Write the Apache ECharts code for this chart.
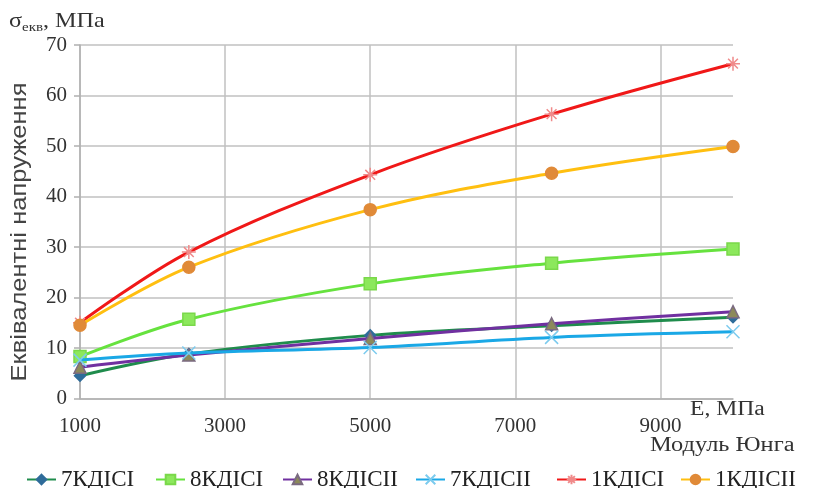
<!DOCTYPE html>
<html>
<head>
<meta charset="utf-8">
<script src="https://cdn.jsdelivr.net/npm/echarts@6/dist/echarts.min.js"></script>
<style>html,body{margin:0;padding:0;background:#fff;}#c{width:818px;height:488px;}</style>
</head>
<body>
<div id="c"></div>
<script>
// ---- data ----
const xValues = [1000, 2500, 5000, 7500, 10000];
const seriesNames = ['7КДІСІ', '8КДІСІ', '8КДІСІІ', '7КДІСІІ', '1КДІСІ', '1КДІСІІ'];
const v7KDISI  = [4.5, 8.8, 12.5, 14.4, 16.1];
const v8KDISI  = [8.3, 15.7, 22.7, 26.8, 29.6];
const v8KDISII = [6.2, 8.6, 11.9, 14.8, 17.2];
const v7KDISII = [7.6, 9.0, 10.1, 12.1, 13.2];
const v1KDISI  = [15.0, 29.0, 44.3, 56.3, 66.3];
const v1KDISII = [14.5, 26.0, 37.4, 44.6, 49.9];
const yTicks = [0, 10, 20, 30, 40, 50, 60, 70];
const xTickLabels = [1000, 3000, 5000, 7000, 9000];
const yTitle = 'Еквівалентні напруження';
const xUnit = 'E, МПа';
const xTitle = 'Модуль Юнга';

const serif = '"Liberation Serif", "DejaVu Serif", serif';
const sans = '"Liberation Sans", Arial, sans-serif';

const styles = [
  {line: '#1f8c4c', fill: '#2f6c9a', border: '#2f6c9a', symbol: 'diamond', size: 11},
  {line: '#66e23e', fill: '#8ce85c', border: '#7ad84a', symbol: 'rect', size: 12},
  {line: '#7030a0', fill: '#8c8a5a', border: '#7a6a80', symbol: 'triangle', size: 12},
  {line: '#1aa8e6', fill: 'rgba(0,0,0,0)', border: '#7ccbee', symbol: 'path://M0,0L10,10M10,0L0,10', size: 13},
  {line: '#f01818', fill: 'rgba(0,0,0,0)', border: '#f08a8a', symbol: 'path://M0,5L10,5M5,0L5,10M1.5,1.5L8.5,8.5M8.5,1.5L1.5,8.5', size: 14},
  {line: '#ffbf10', fill: '#e08a38', border: '#e08a38', symbol: 'circle', size: 12}
];
const allValues = [v7KDISI, v8KDISI, v8KDISII, v7KDISII, v1KDISI, v1KDISII];

const series = seriesNames.map((name, i) => ({
  name: name,
  type: 'line',
  smooth: 0.35,
  data: xValues.map((x, j) => [x, allValues[i][j]]),
  symbol: styles[i].symbol,
  symbolSize: styles[i].size,
  lineStyle: {color: styles[i].line, width: 3},
  itemStyle: {color: styles[i].fill, borderColor: styles[i].border, borderWidth: 1.5},
  z: 2 + i
}));

const legendLefts = [21, 150, 277, 410, 551, 675];
const legends = seriesNames.map((name, i) => ({
  data: [name],
  left: legendLefts[i],
  top: 463,
  itemWidth: 29,
  itemHeight: 12,
  textStyle: {fontFamily: serif, fontSize: 23, color: '#222'}
}));

const chart = echarts.init(document.getElementById('c'));
chart.setOption({
  animation: false,
  backgroundColor: '#fff',
  grid: {left: 80, right: 85, top: 45, bottom: 89.5, containLabel: false},
  legend: legends,
  xAxis: {
    type: 'value',
    min: 1000, max: 10000, interval: 1000,
    axisLine: {show: true, lineStyle: {color: '#b0b0b0', width: 1.5}},
    axisTick: {show: false},
    axisLabel: {
      margin: 17,
      fontFamily: serif, fontSize: 21, color: '#333',
      formatter: v => (xTickLabels.indexOf(v) >= 0 ? String(v) : '')
    },
    splitLine: {show: true, lineStyle: {color: ['#c0c0c0', 'rgba(0,0,0,0)'], width: 1.5}}
  },
  yAxis: {
    type: 'value',
    min: yTicks[0], max: yTicks[yTicks.length - 1], interval: 10,
    axisLine: {show: true, lineStyle: {color: '#b0b0b0', width: 1.5}},
    axisTick: {show: true, inside: false, length: 6, lineStyle: {color: '#b0b0b0', width: 1.5}},
    axisLabel: {margin: 13, fontFamily: serif, fontSize: 21, color: '#333'},
    splitLine: {show: true, lineStyle: {color: '#c0c0c0', width: 1.5}}
  },
  graphic: [
    {
      type: 'text', x: 9, y: 6, scaleX: 1.15,
      style: {
        text: '{a|σ}{b|екв}{a|, МПа}',
        rich: {
          a: {fontFamily: serif, fontSize: 21, fill: '#333', lineHeight: 30, verticalAlign: 'middle'},
          b: {fontFamily: serif, fontSize: 13, fill: '#333', lineHeight: 30, verticalAlign: 'bottom', padding: [0, 0, 2, 0]}
        }
      }
    },
    {
      type: 'text', x: 20, y: 232, rotation: Math.PI / 2, scaleX: 1.16,
      style: {text: yTitle, fontFamily: sans, fontSize: 22, fill: '#444', align: 'center', verticalAlign: 'middle'}
    },
    {
      type: 'text', x: 690, y: 410, scaleX: 1.18,
      style: {text: xUnit, fontFamily: serif, fontSize: 20, fill: '#333', align: 'left', verticalAlign: 'middle'}
    },
    {
      type: 'text', x: 650, y: 446, scaleX: 1.22,
      style: {text: xTitle, fontFamily: serif, fontSize: 20, fill: '#333', align: 'left', verticalAlign: 'middle'}
    }
  ],
  series: series
});
</script>
</body>
</html>
